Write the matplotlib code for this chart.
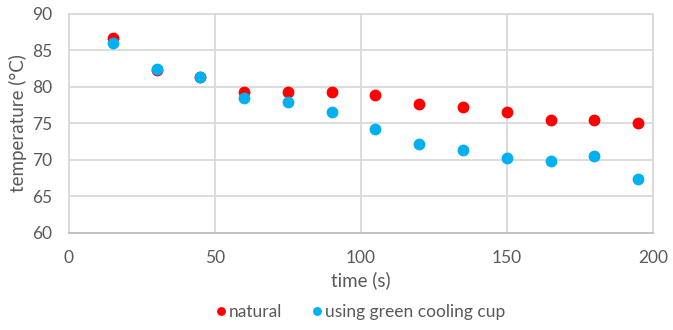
import matplotlib.pyplot as plt

time_s = [15, 30, 45, 60, 75, 90, 105, 120, 135, 150, 165, 180, 195]
natural = [86.7, 82.3, 81.3, 79.3, 79.3, 79.3, 78.9, 77.6, 77.2, 76.6, 75.4, 75.4, 75.1]
green_cup = [86.0, 82.5, 81.3, 78.5, 77.9, 76.6, 74.2, 72.2, 71.3, 70.3, 69.8, 70.6, 67.4]

plt.rcParams['font.family'] = ['Lato', 'DejaVu Sans']
txt = '#595959'
grid = '#D9D9D9'

fig = plt.figure(figsize=(6.73, 3.30), dpi=100)
ax = fig.add_axes([0.1025, 0.294, 0.8675, 0.664])

ax.plot(time_s, natural, 'o', color='#FF0000', ms=8.5, mew=0, label='natural', zorder=3)
ax.plot(time_s, green_cup, 'o', color='#00B0F0', ms=8.5, mew=0,
        label='using green cooling cup', zorder=4)

ax.set_xlim(0, 200)
ax.set_ylim(60, 90)
ax.set_xticks(range(0, 201, 50))
ax.set_yticks(range(60, 91, 5))
ax.grid(True, color=grid, lw=1.3)
ax.set_axisbelow(True)
for s in ax.spines.values():
    s.set_color(grid)
    s.set_linewidth(1.3)
ax.spines['bottom'].set_color('#BFBFBF')
ax.tick_params(axis='y', length=0, colors=txt, labelsize=12.5, pad=12)
ax.tick_params(axis='x', length=0, colors=txt, labelsize=12.5, pad=12)

ax.set_xlabel('time (s)', color=txt, fontsize=13.5, labelpad=4)
ax.set_ylabel('temperature (°C)', color=txt, fontsize=13.5, labelpad=4)

ax.legend(loc='center', bbox_to_anchor=(0.5, -0.36), ncol=2, frameon=False,
          fontsize=12.5, labelcolor=txt, handlelength=0.5, handletextpad=0.2,
          columnspacing=1.8, markerscale=0.75, borderpad=0)

fig.savefig('out.png', dpi=100)
